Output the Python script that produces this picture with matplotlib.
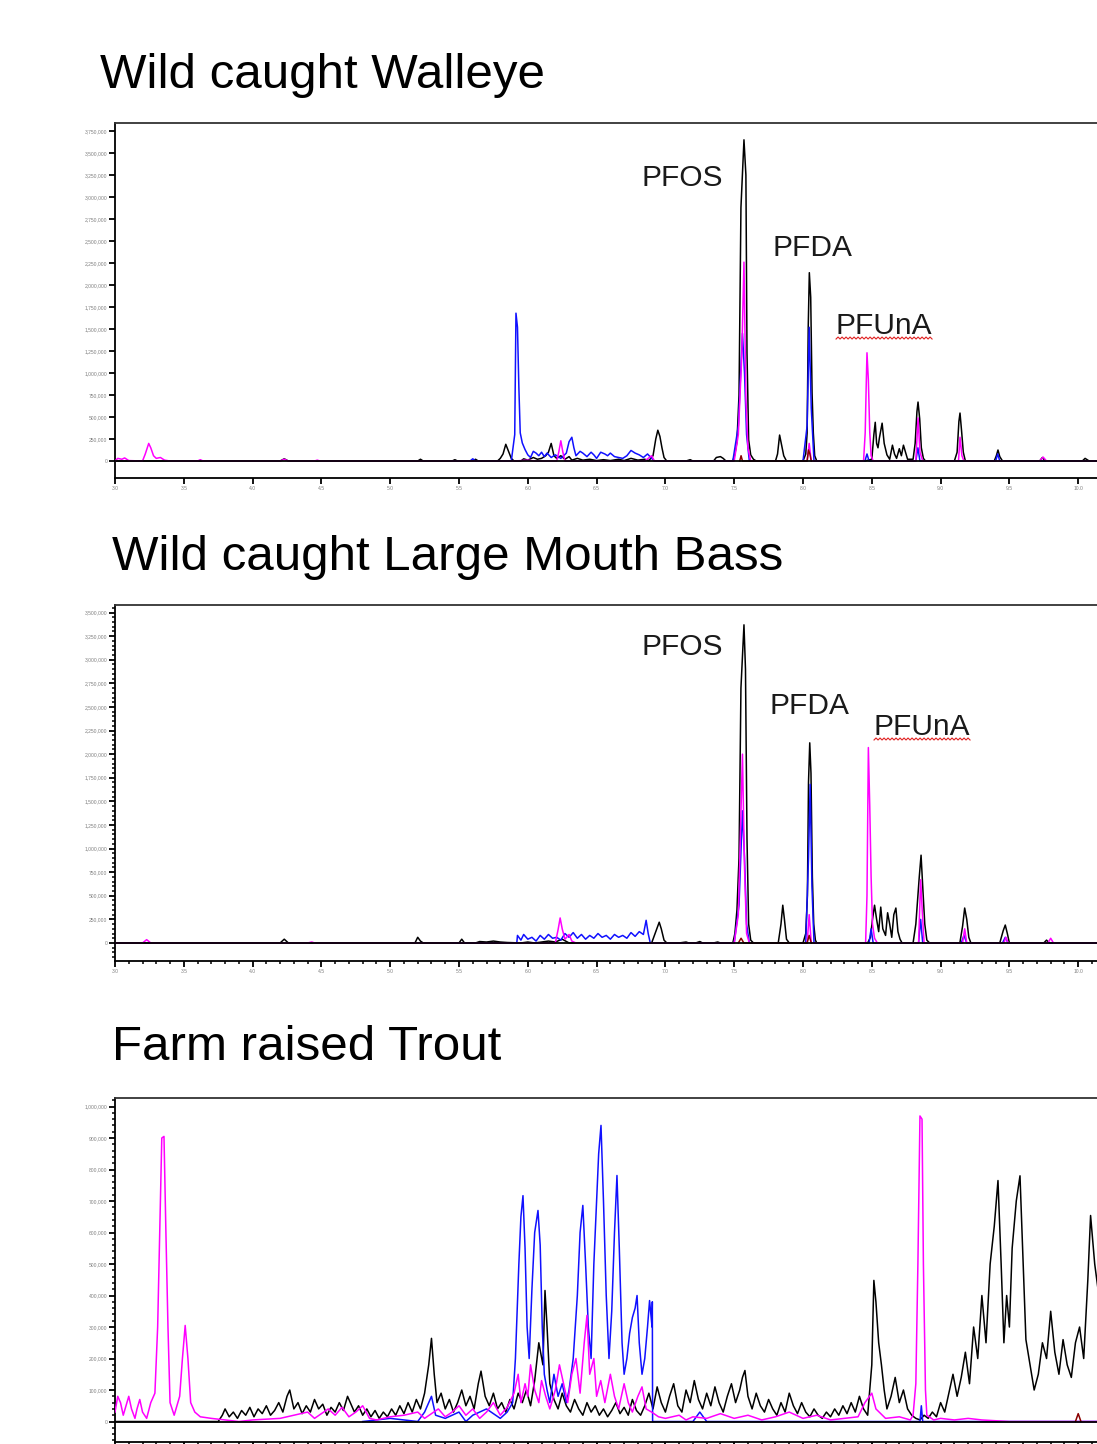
import numpy as np
import matplotlib
matplotlib.use("Agg")
import matplotlib.pyplot as plt
from matplotlib.ticker import MultipleLocator, FuncFormatter
from matplotlib.lines import Line2D

plt.rcParams['font.family'] = ['Liberation Sans', 'DejaVu Sans']

# ---------------- DATA (time in min, intensity in thousands of counts) ----------------
titles = ["Wild caught Walleye", "Wild caught Large Mouth Bass", "Farm raised Trout"]
peak_names = ["PFOS", "PFDA", "PFUnA"]

# Walleye
walleye_black_t = [3.0, 3.5, 4.2, 4.23, 4.26, 5.0, 5.2, 5.22, 5.24, 5.45, 5.47, 5.49, 5.6, 5.62, 5.64, 5.78, 5.8, 5.82, 5.84, 5.86, 5.88, 5.9, 5.95, 5.97, 6.0, 6.04, 6.07, 6.1, 6.13, 6.15, 6.17, 6.19, 6.21, 6.24, 6.27, 6.3, 6.32, 6.36, 6.4, 6.45, 6.5, 6.55, 6.6, 6.66, 6.7, 6.75, 6.8, 6.85, 6.88, 6.91, 6.93, 6.945, 6.96, 6.975, 6.99, 7.01, 7.15, 7.18, 7.2, 7.35, 7.37, 7.4, 7.42, 7.44, 7.49, 7.505, 7.52, 7.535, 7.549, 7.571, 7.585, 7.593, 7.605, 7.62, 7.64, 7.66, 7.8, 7.815, 7.83, 7.845, 7.86, 7.88, 8.0, 8.02, 8.03, 8.038, 8.046, 8.056, 8.066, 8.075, 8.085, 8.1, 8.45, 8.5, 8.515, 8.525, 8.535, 8.545, 8.555, 8.575, 8.59, 8.61, 8.63, 8.65, 8.665, 8.68, 8.7, 8.715, 8.73, 8.745, 8.76, 8.8, 8.815, 8.828, 8.836, 8.848, 8.86, 8.875, 8.89, 9.1, 9.12, 9.133, 9.141, 9.152, 9.165, 9.18, 9.39, 9.405, 9.417, 9.43, 9.45, 9.72, 9.74, 9.76, 10.03, 10.05, 10.08, 10.2]
walleye_black_v = [0, 0, 0, 25, 0, 0, 0, 20, 0, 0, 15, 0, 0, 20, 0, 0, 30, 80, 190, 110, 30, 0, 0, 25, 10, 40, 20, 30, 60, 100, 200, 60, 30, 60, 20, 50, 10, 30, 10, 20, 5, 15, 5, 20, 5, 30, 10, 20, 5, 60, 250, 350, 280, 150, 40, 0, 0, 15, 0, 0, 40, 50, 30, 0, 0, 80, 220, 750, 2880, 3650, 3250, 1230, 240, 70, 20, 0, 0, 80, 295, 180, 60, 0, 0, 80, 320, 1520, 2140, 1860, 770, 320, 60, 0, 0, 20, 300, 440, 200, 150, 260, 430, 200, 70, 20, 180, 80, 30, 140, 60, 180, 100, 20, 20, 200, 560, 670, 480, 150, 30, 0, 0, 100, 450, 545, 350, 100, 0, 0, 60, 125, 50, 0, 0, 40, 0, 0, 30, 0, 0]
walleye_blue_t = [5.45, 5.58, 5.6, 5.62, 5.88, 5.905, 5.914, 5.925, 5.935, 5.945, 5.96, 5.98, 6.0, 6.02, 6.04, 6.06, 6.08, 6.1, 6.12, 6.14, 6.17, 6.2, 6.24, 6.28, 6.3, 6.32, 6.335, 6.35, 6.38, 6.4, 6.43, 6.46, 6.48, 6.5, 6.53, 6.56, 6.58, 6.6, 6.63, 6.66, 6.69, 6.72, 6.75, 6.78, 6.81, 6.84, 6.87, 6.9, 6.92, 7.49, 7.53, 7.56, 7.575, 7.59, 7.61, 8.0, 8.03, 8.045, 8.06, 8.08, 8.45, 8.465, 8.48, 8.82, 8.835, 8.85, 9.4, 9.415, 9.43, 10.2]
walleye_blue_v = [0, 0, 25, 0, 0, 300, 1680, 1520, 840, 320, 205, 130, 70, 40, 110, 90, 60, 100, 50, 90, 40, 70, 30, 90, 220, 270, 150, 60, 110, 90, 50, 100, 70, 30, 100, 80, 60, 90, 50, 40, 30, 60, 120, 90, 70, 40, 80, 30, 0, 0, 400, 1450, 1000, 300, 0, 0, 400, 1520, 600, 0, 0, 80, 0, 0, 150, 0, 0, 80, 0, 0]
walleye_magenta_t = [3.0, 3.02, 3.05, 3.07, 3.1, 3.2, 3.22, 3.245, 3.26, 3.28, 3.3, 3.33, 3.36, 3.4, 3.6, 3.62, 3.64, 4.2, 4.23, 4.26, 4.45, 4.47, 4.49, 5.9, 6.0, 6.05, 6.21, 6.225, 6.24, 6.255, 6.27, 6.85, 6.9, 6.92, 7.5, 7.53, 7.555, 7.571, 7.585, 7.6, 7.62, 8.03, 8.045, 8.06, 8.44, 8.452, 8.46, 8.465, 8.475, 8.485, 8.495, 8.51, 8.82, 8.836, 8.85, 8.87, 9.13, 9.141, 9.155, 9.17, 9.72, 9.745, 9.77, 10.2]
walleye_magenta_v = [0, 30, 20, 35, 5, 0, 80, 200, 150, 60, 30, 40, 10, 0, 0, 15, 0, 0, 20, 0, 0, 10, 0, 0, 10, 0, 0, 100, 230, 100, 0, 0, 60, 0, 0, 300, 1200, 2260, 700, 150, 0, 0, 200, 0, 0, 320, 900, 1230, 920, 330, 60, 0, 0, 490, 100, 0, 0, 270, 60, 0, 0, 45, 0, 0]
walleye_red_t = [7.54, 7.55, 7.56, 8.03, 8.04, 8.05, 8.06]
walleye_red_v = [0, 60, 0, 0, 125, 80, 0]

# Large Mouth Bass
bass_black_t = [3.0, 4.2, 4.23, 4.26, 5.18, 5.2, 5.22, 5.24, 5.5, 5.52, 5.54, 5.62, 5.65, 5.7, 5.75, 5.8, 5.85, 5.95, 6.0, 6.05, 6.15, 6.2, 6.25, 6.3, 6.6, 6.9, 6.93, 6.955, 6.97, 6.99, 7.01, 7.1, 7.15, 7.17, 7.22, 7.25, 7.27, 7.35, 7.38, 7.4, 7.49, 7.505, 7.52, 7.535, 7.549, 7.571, 7.582, 7.593, 7.605, 7.62, 7.64, 7.82, 7.84, 7.853, 7.865, 7.88, 7.9, 8.0, 8.02, 8.032, 8.04, 8.049, 8.058, 8.068, 8.078, 8.09, 8.1, 8.47, 8.49, 8.505, 8.52, 8.535, 8.55, 8.565, 8.58, 8.6, 8.615, 8.63, 8.645, 8.66, 8.675, 8.69, 8.705, 8.72, 8.8, 8.82, 8.845, 8.858, 8.87, 8.885, 8.9, 8.92, 9.14, 9.16, 9.175, 9.19, 9.205, 9.22, 9.43, 9.455, 9.47, 9.485, 9.5, 9.75, 9.77, 9.79, 10.2]
bass_black_v = [0, 0, 40, 0, 0, 60, 20, 0, 0, 40, 0, 0, 15, 10, 20, 10, 5, 0, 10, 0, 20, 10, 40, 0, 0, 0, 120, 220, 150, 30, 0, 0, 10, 0, 0, 15, 0, 0, 10, 0, 0, 100, 350, 900, 2700, 3370, 2900, 1100, 200, 30, 0, 0, 200, 400, 250, 40, 0, 0, 100, 500, 1700, 2120, 1800, 700, 200, 30, 0, 0, 60, 250, 400, 250, 120, 380, 150, 80, 320, 200, 60, 300, 370, 120, 40, 0, 0, 200, 700, 930, 600, 200, 30, 0, 0, 180, 370, 250, 60, 0, 0, 130, 190, 100, 0, 0, 30, 0, 0]
bass_blue_t = [5.45, 5.92, 5.925, 5.95, 5.97, 6.0, 6.03, 6.06, 6.09, 6.12, 6.15, 6.18, 6.21, 6.24, 6.27, 6.3, 6.33, 6.36, 6.39, 6.42, 6.45, 6.48, 6.51, 6.54, 6.57, 6.6, 6.63, 6.66, 6.69, 6.72, 6.75, 6.78, 6.81, 6.84, 6.86, 6.875, 6.89, 7.5, 7.535, 7.56, 7.575, 7.59, 7.61, 8.02, 8.04, 8.052, 8.065, 8.08, 8.48, 8.495, 8.51, 8.84, 8.855, 8.87, 9.15, 9.17, 9.19, 9.45, 9.47, 9.49, 10.2]
bass_blue_v = [0, 0, 80, 30, 90, 40, 60, 20, 80, 40, 90, 50, 60, 30, 100, 60, 110, 50, 90, 40, 80, 50, 100, 60, 80, 40, 90, 60, 80, 50, 110, 70, 120, 90, 240, 100, 0, 0, 400, 1400, 900, 200, 0, 0, 900, 1680, 600, 0, 0, 150, 0, 0, 250, 0, 0, 80, 0, 0, 60, 0, 0]
bass_magenta_t = [3.0, 3.2, 3.23, 3.26, 4.4, 4.43, 4.45, 6.2, 6.22, 6.235, 6.25, 6.27, 6.3, 6.32, 6.35, 7.5, 7.53, 7.56, 7.575, 7.59, 7.61, 8.03, 8.045, 8.06, 8.455, 8.465, 8.475, 8.485, 8.495, 8.505, 8.52, 8.54, 8.84, 8.855, 8.868, 8.88, 9.16, 9.175, 9.19, 9.46, 9.475, 9.49, 9.78, 9.8, 9.82, 10.2]
bass_magenta_v = [0, 0, 35, 0, 0, 10, 0, 0, 140, 265, 150, 40, 90, 20, 0, 0, 300, 2000, 800, 100, 0, 0, 300, 0, 0, 500, 2070, 1460, 700, 200, 50, 0, 0, 670, 300, 0, 0, 150, 0, 0, 60, 0, 0, 50, 0, 0]
bass_red_t = [7.53, 7.55, 7.57, 8.03, 8.045, 8.06]
bass_red_v = [0, 50, 0, 0, 80, 0]

# Farm raised Trout
trout_black_t = [3.0, 3.75, 3.78, 3.8, 3.83, 3.86, 3.89, 3.92, 3.95, 3.98, 4.01, 4.04, 4.07, 4.1, 4.13, 4.16, 4.19, 4.22, 4.25, 4.27, 4.3, 4.33, 4.36, 4.39, 4.42, 4.45, 4.48, 4.51, 4.54, 4.57, 4.6, 4.63, 4.66, 4.69, 4.71, 4.74, 4.77, 4.8, 4.83, 4.86, 4.89, 4.92, 4.95, 4.98, 5.01, 5.04, 5.07, 5.1, 5.13, 5.16, 5.19, 5.22, 5.25, 5.28, 5.3, 5.32, 5.34, 5.37, 5.4, 5.43, 5.46, 5.49, 5.52, 5.55, 5.58, 5.61, 5.64, 5.66, 5.69, 5.72, 5.75, 5.78, 5.81, 5.84, 5.87, 5.9, 5.93, 5.96, 5.99, 6.02, 6.05, 6.08, 6.11, 6.125, 6.14, 6.16, 6.19, 6.22, 6.25, 6.28, 6.31, 6.34, 6.37, 6.4, 6.43, 6.46, 6.49, 6.52, 6.55, 6.58, 6.61, 6.64, 6.67, 6.7, 6.73, 6.76, 6.79, 6.82, 6.85, 6.88, 6.91, 6.94, 6.97, 7.0, 7.03, 7.06, 7.09, 7.12, 7.15, 7.18, 7.21, 7.24, 7.27, 7.3, 7.33, 7.36, 7.39, 7.42, 7.45, 7.48, 7.51, 7.54, 7.56, 7.578, 7.6, 7.63, 7.66, 7.69, 7.72, 7.75, 7.78, 7.81, 7.84, 7.87, 7.9, 7.93, 7.96, 7.99, 8.02, 8.05, 8.08, 8.11, 8.14, 8.17, 8.2, 8.23, 8.26, 8.29, 8.32, 8.35, 8.38, 8.41, 8.44, 8.47, 8.5, 8.515, 8.53, 8.55, 8.57, 8.59, 8.61, 8.64, 8.67, 8.7, 8.73, 8.76, 8.79, 8.82, 8.85, 8.88, 8.91, 8.94, 8.97, 9.0, 9.03, 9.06, 9.09, 9.12, 9.15, 9.18, 9.21, 9.24, 9.27, 9.3, 9.33, 9.36, 9.39, 9.417, 9.44, 9.46, 9.48, 9.5, 9.52, 9.55, 9.577, 9.6, 9.62, 9.65, 9.68, 9.71, 9.74, 9.77, 9.8, 9.83, 9.86, 9.89, 9.92, 9.95, 9.98, 10.01, 10.04, 10.07, 10.09, 10.12, 10.15, 10.2]
trout_black_v = [0, 0, 20, 40, 15, 30, 10, 35, 20, 45, 15, 40, 25, 50, 20, 35, 60, 30, 80, 100, 40, 60, 25, 50, 30, 70, 40, 55, 20, 45, 30, 60, 35, 80, 60, 30, 50, 20, 40, 15, 35, 10, 30, 15, 40, 20, 50, 25, 60, 30, 70, 40, 90, 180, 264, 150, 60, 90, 40, 70, 30, 60, 100, 50, 80, 40, 120, 160, 80, 50, 90, 40, 60, 30, 70, 40, 90, 60, 100, 50, 130, 250, 180, 416, 300, 120, 70, 40, 90, 50, 30, 70, 40, 20, 60, 30, 50, 20, 40, 15, 35, 60, 25, 45, 20, 70, 35, 20, 50, 90, 40, 110, 60, 30, 80, 120, 50, 30, 100, 60, 130, 70, 40, 90, 50, 110, 60, 30, 80, 120, 60, 100, 140, 162, 80, 40, 90, 50, 30, 70, 40, 20, 60, 30, 90, 50, 25, 60, 30, 15, 40, 20, 10, 30, 15, 40, 20, 50, 25, 60, 30, 80, 40, 20, 180, 448, 380, 250, 180, 100, 40, 80, 140, 60, 100, 40, 20, 10, 5, 20, 10, 30, 15, 60, 30, 90, 150, 80, 140, 220, 120, 300, 200, 400, 250, 500, 620, 765, 500, 250, 400, 300, 550, 700, 780, 500, 260, 180, 100, 150, 250, 200, 350, 220, 150, 260, 180, 140, 250, 300, 200, 450, 654, 500, 400, 350]
trout_blue_t = [4.8, 5.0, 5.2, 5.25, 5.3, 5.33, 5.4, 5.5, 5.55, 5.6, 5.7, 5.8, 5.85, 5.89, 5.91, 5.935, 5.95, 5.965, 5.98, 5.995, 6.01, 6.03, 6.05, 6.074, 6.09, 6.105, 6.12, 6.14, 6.16, 6.19, 6.22, 6.25, 6.28, 6.3, 6.33, 6.36, 6.38, 6.4, 6.42, 6.44, 6.46, 6.48, 6.5, 6.515, 6.532, 6.55, 6.57, 6.59, 6.61, 6.63, 6.648, 6.665, 6.685, 6.7, 6.72, 6.74, 6.76, 6.78, 6.794, 6.81, 6.83, 6.85, 6.87, 6.885, 6.903, 6.905, 6.907, 7.2, 7.25, 7.3, 8.85, 8.86, 8.87, 10.2]
trout_blue_v = [0, 10, 0, 30, 80, 20, 10, 30, 0, 20, 40, 10, 30, 60, 200, 500, 650, 717, 550, 300, 200, 420, 600, 670, 560, 300, 150, 100, 60, 150, 80, 120, 60, 100, 200, 400, 600, 686, 500, 300, 200, 500, 700, 850, 940, 700, 400, 200, 350, 600, 781, 550, 250, 150, 200, 280, 330, 360, 400, 250, 150, 200, 300, 384, 300, 380, 0, 0, 30, 0, 0, 50, 0, 0]
trout_magenta_t = [3.0, 3.02, 3.04, 3.06, 3.08, 3.1, 3.12, 3.145, 3.16, 3.18, 3.2, 3.23, 3.26, 3.29, 3.31, 3.325, 3.34, 3.356, 3.37, 3.385, 3.4, 3.43, 3.47, 3.49, 3.51, 3.53, 3.55, 3.58, 3.62, 3.7, 3.8, 3.9, 4.0, 4.2, 4.3, 4.4, 4.45, 4.55, 4.6, 4.65, 4.7, 4.75, 4.8, 4.85, 4.9, 5.0, 5.1, 5.2, 5.25, 5.3, 5.35, 5.4, 5.45, 5.5, 5.55, 5.6, 5.65, 5.7, 5.75, 5.8, 5.85, 5.9, 5.93, 5.95, 5.98, 6.0, 6.02, 6.05, 6.08, 6.1, 6.13, 6.16, 6.2, 6.23, 6.26, 6.29, 6.32, 6.35, 6.38, 6.41, 6.43, 6.45, 6.48, 6.5, 6.53, 6.56, 6.6, 6.63, 6.66, 6.7, 6.73, 6.76, 6.8, 6.83, 6.86, 6.9, 6.95, 7.0, 7.1, 7.15, 7.2, 7.3, 7.4, 7.5, 7.6, 7.7, 7.8, 7.9, 8.0, 8.1, 8.2, 8.3, 8.4, 8.45, 8.5, 8.53, 8.6, 8.7, 8.78, 8.8, 8.82, 8.835, 8.85, 8.865, 8.875, 8.89, 8.9, 8.95, 9.0, 9.1, 9.2, 9.3, 9.5, 10.2]
trout_magenta_v = [30, 80, 60, 20, 50, 80, 40, 10, 40, 70, 30, 10, 60, 90, 300, 600, 900, 905, 600, 300, 60, 20, 80, 200, 305, 200, 60, 30, 15, 10, 5, 0, 5, 10, 20, 30, 10, 40, 20, 45, 15, 30, 50, 10, 5, 15, 20, 30, 10, 25, 40, 15, 30, 50, 20, 40, 10, 30, 60, 20, 45, 90, 150, 60, 120, 80, 180, 100, 60, 130, 80, 40, 100, 180, 120, 60, 150, 200, 90, 250, 337, 150, 200, 80, 130, 60, 150, 80, 40, 120, 60, 30, 80, 110, 40, 30, 15, 10, 20, 5, 15, 10, 25, 10, 20, 5, 15, 30, 10, 20, 5, 10, 15, 60, 90, 40, 10, 15, 5, 20, 120, 500, 970, 960, 500, 100, 20, 5, 10, 5, 10, 5, 0, 0]
trout_red_t = [9.98, 10.0, 10.02]
trout_red_v = [0, 25, 0]

# axis ranges (intensity in counts) and tick steps
ymax_list = [3841000, 3580000, 1027000]
ymin_list = [-193000, -191000, -65000]
ystep_list = [250000, 250000, 100000]
ytop_tick = [3750000, 3500000, 1000000]
label_pos = [  # (time, intensity in thousands) for PFOS, PFDA, PFUnA labels
    [(6.823, 3125), (7.775, 2330), (8.233, 1443)],
    [(6.823, 3051), (7.76, 2426), (8.509, 2203)],
]

# ---------------- FIGURE ----------------
W, H = 1097, 1444
fig = plt.figure(figsize=(W / 100, H / 100), dpi=100)
fig.patch.set_facecolor("white")

# axes boxes in pixels: (top, bottom_axis_line)
boxes = [(123, 478), (605, 961), (1098, 1442)]
left_px, right_px = 115, 1105
title_pos = [(100, 88), (112, 570), (112, 1060)]

series = [
    (walleye_black_t, walleye_black_v, walleye_blue_t, walleye_blue_v, walleye_magenta_t, walleye_magenta_v, walleye_red_t, walleye_red_v),
    (bass_black_t, bass_black_v, bass_blue_t, bass_blue_v, bass_magenta_t, bass_magenta_v, bass_red_t, bass_red_v),
    (trout_black_t, trout_black_v, trout_blue_t, trout_blue_v, trout_magenta_t, trout_magenta_v, trout_red_t, trout_red_v),
]

fmt_y = FuncFormatter(lambda v, p: f"{int(round(v)):,}")
fmt_x = FuncFormatter(lambda v, p: f"{v:.1f}")
pfuna_texts = []

for i, (top, bot) in enumerate(boxes):
    ax = fig.add_axes([left_px / W, 1 - bot / H, (right_px - left_px) / W, (bot - top) / H])
    bt, bv, ut, uv, mt, mv, rt, rv = series[i]
    ax.plot(bt, np.array(bv) * 1000, color="black", lw=1.1, zorder=3)
    ax.plot(ut, np.array(uv) * 1000, color="#1010ff", lw=1.1, zorder=4)
    ax.plot(mt, np.array(mv) * 1000, color="#ff00ff", lw=1.1, zorder=5)
    ax.plot(rt, np.array(rv) * 1000, color="#8b0000", lw=1.1, zorder=6)
    ax.axhline(0, color="black", lw=1.3, zorder=7)

    ax.set_xlim(3.0, 3.0 + (right_px - left_px) / 137.6)
    ax.set_ylim(ymin_list[i], ymax_list[i])
    ax.set_yticks(np.arange(0, ytop_tick[i] + 1, ystep_list[i]))
    ax.xaxis.set_major_locator(MultipleLocator(0.5))
    ax.yaxis.set_major_formatter(fmt_y)
    ax.xaxis.set_major_formatter(fmt_x)
    if i > 0:
        ax.xaxis.set_minor_locator(MultipleLocator(0.1))
        ax.yaxis.set_minor_locator(MultipleLocator(ystep_list[i] / 5))
    ax.tick_params(which="major", direction="out", length=4, width=1.3, color="black",
                   labelsize=3.6, labelcolor="#808080", pad=1.5)
    ax.tick_params(which="minor", direction="out", length=2.5, width=1.1, color="black")
    if i == 2:
        # the reference shows this axis cut off at the bottom edge, labels outside the picture
        ax.tick_params(axis="x", which="both", labelbottom=False)
    for s in ["left", "bottom", "top"]:
        ax.spines[s].set_linewidth(1.3)
    ax.spines["top"].set_color("#333333")
    ax.spines["right"].set_visible(False)
    ax.set_facecolor("none")

    if i < 2:
        for name, (tx, ty) in zip(peak_names, label_pos[i]):
            t = ax.text(tx, ty * 1000, name, fontsize=21.5, color="#1a1a1a",
                        ha="left", va="baseline", zorder=8)
            if name == "PFUnA":
                pfuna_texts.append(t)

for (tx, ty), title in zip(title_pos, titles):
    fig.text(tx / W, 1 - ty / H, title, fontsize=35.5, color="black", ha="left", va="baseline")

# red spell-check squiggle under PFUnA
fig.canvas.draw()
renderer = fig.canvas.get_renderer()
for t in pfuna_texts:
    bb = t.get_window_extent(renderer)
    xs = np.arange(bb.x0 + 1, bb.x1 + 2, 2.0)
    ys = bb.y0 + 1 + np.where(np.arange(len(xs)) % 2 == 0, 0.0, 2.0)
    fig.add_artist(Line2D(xs / W, ys / H, transform=fig.transFigure,
                          color="#e02020", lw=0.8))

fig.savefig("out.png", dpi=100, facecolor="white")
